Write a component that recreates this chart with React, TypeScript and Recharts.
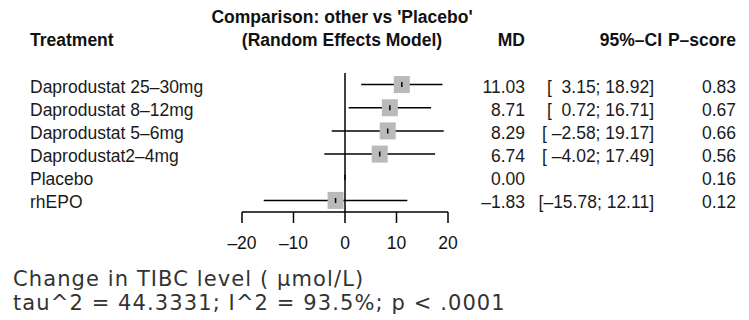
import React from "react";
import {
  ScatterChart,
  Scatter,
  XAxis,
  YAxis,
  ErrorBar,
  ReferenceLine,
} from "recharts";

// forest plot: comparison vs placebo, random effects model
const treatments = [
  "Daprodustat 25–30mg",
  "Daprodustat 8–12mg",
  "Daprodustat 5–6mg",
  "Daprodustat2–4mg",
  "Placebo",
  "rhEPO",
];
const md = [11.03, 8.71, 8.29, 6.74, 0.0, -1.83];
const ciLow: (number | null)[] = [3.15, 0.72, -2.58, -4.02, null, -15.78];
const ciHigh: (number | null)[] = [18.92, 16.71, 19.17, 17.49, null, 12.11];
const pScore = [0.83, 0.67, 0.66, 0.56, 0.16, 0.12];
const xTicks = [-20, -10, 0, 10, 20];

const FONT = '"Liberation Sans", Arial, Helvetica, sans-serif';
const FOOT_FONT = '"DejaVu Sans", "Open Sans", sans-serif';

const fmt = (v: number) => v.toFixed(2).replace("-", "–");

const rows = treatments.map((name, i) => ({
  row: i + 1,
  name,
  md: md[i],
  err: ciLow[i] == null ? [0, 0] : [md[i] - (ciLow[i] as number), (ciHigh[i] as number) - md[i]],
  ci:
    ciLow[i] == null
      ? ""
      : `[${fmt(ciLow[i] as number).padStart(6, " ")}; ${fmt(ciHigh[i] as number).padStart(5, " ")}]`,
  p: pScore[i].toFixed(2),
  hasBox: ciLow[i] != null,
}));

const boxes = rows.filter((r) => r.hasBox);

function Box(props: any) {
  const { cx, cy } = props;
  if (cx == null || cy == null) return null;
  return <rect x={cx - 8} y={cy - 8.5} width={16} height={17} fill="#bababa" />;
}

function Tick(props: any) {
  const { cx, cy } = props;
  if (cx == null || cy == null) return null;
  return <line x1={cx} x2={cx} y1={cy - 2.5} y2={cy + 2.5} stroke="#000" strokeWidth={1.5} />;
}

function RowLabel(props: any) {
  const { y, payload } = props;
  const r = rows[payload.value - 1];
  if (!r) return null;
  const common = {
    y: y + 2,
    fontFamily: FONT,
    fontSize: 17.5,
    fill: "#1a1a1a",
    dominantBaseline: "central" as const,
    style: { whiteSpace: "pre" as const },
  };
  return (
    <g>
      <text {...common} x={30} textAnchor="start">
        {r.name}
      </text>
      <text {...common} x={525} textAnchor="end">
        {fmt(r.md)}
      </text>
      <text {...common} x={654} textAnchor="end">
        {r.ci}
      </text>
      <text {...common} x={736} textAnchor="end">
        {r.p}
      </text>
    </g>
  );
}

const headStyle = {
  fontFamily: FONT,
  fontSize: 17.5,
  fontWeight: 700,
  fill: "#111",
  dominantBaseline: "central" as const,
};

const footStyle = {
  fontFamily: FOOT_FONT,
  fontSize: 21,
  letterSpacing: 1.1,
  fill: "#333",
  dominantBaseline: "central" as const,
};

export default function App() {
  return (
    <div style={{ position: "absolute", left: 0, top: 0, width: 749, height: 320, background: "#fff" }}>
      <ScatterChart
        width={749}
        height={320}
        margin={{ top: 73, right: 301, bottom: 68, left: 30 }}
      >
        <XAxis
          type="number"
          dataKey="md"
          domain={[-20, 20]}
          ticks={xTicks}
          allowDataOverflow
          stroke="#000"
          strokeWidth={1.5}
          tickSize={11}
          tickMargin={14}
          height={40}
          tick={{ fill: "#111", fontSize: 17.5, fontFamily: FONT }}
          tickFormatter={(v: number) => String(v).replace("-", "–")}
        />
        <YAxis
          type="number"
          dataKey="row"
          domain={[0.5, 6.5]}
          reversed
          ticks={[1, 2, 3, 4, 5, 6]}
          interval={0}
          width={212}
          axisLine={false}
          tickLine={false}
          tick={<RowLabel />}
        />
        <ReferenceLine x={0} stroke="#000" strokeWidth={1.5} />
        <Scatter data={boxes} shape={<Box />} isAnimationActive={false} />
        <Scatter data={rows} shape={<Tick />} isAnimationActive={false}>
          <ErrorBar dataKey="err" direction="x" width={0} stroke="#000" strokeWidth={1.5} />
        </Scatter>
      </ScatterChart>
      <svg
        width={749}
        height={320}
        style={{ position: "absolute", left: 0, top: 0, pointerEvents: "none" }}
      >
        <text {...headStyle} x={342} y={17} textAnchor="middle">
          Comparison: other vs 'Placebo'
        </text>
        <text {...headStyle} x={342} y={40} textAnchor="middle">
          (Random Effects Model)
        </text>
        <text {...headStyle} x={30} y={40} textAnchor="start">
          Treatment
        </text>
        <text {...headStyle} x={525} y={40} textAnchor="end">
          MD
        </text>
        <text {...headStyle} x={662} y={40} textAnchor="end">
          95%–CI
        </text>
        <text {...headStyle} x={736} y={40} textAnchor="end">
          P–score
        </text>
        <text {...footStyle} x={13} y={279}>
          Change in TIBC level ( μmol/L)
        </text>
        <text {...footStyle} x={13} y={303}>
          tau^2 = 44.3331; I^2 = 93.5%; p &lt; .0001
        </text>
      </svg>
    </div>
  );
}
